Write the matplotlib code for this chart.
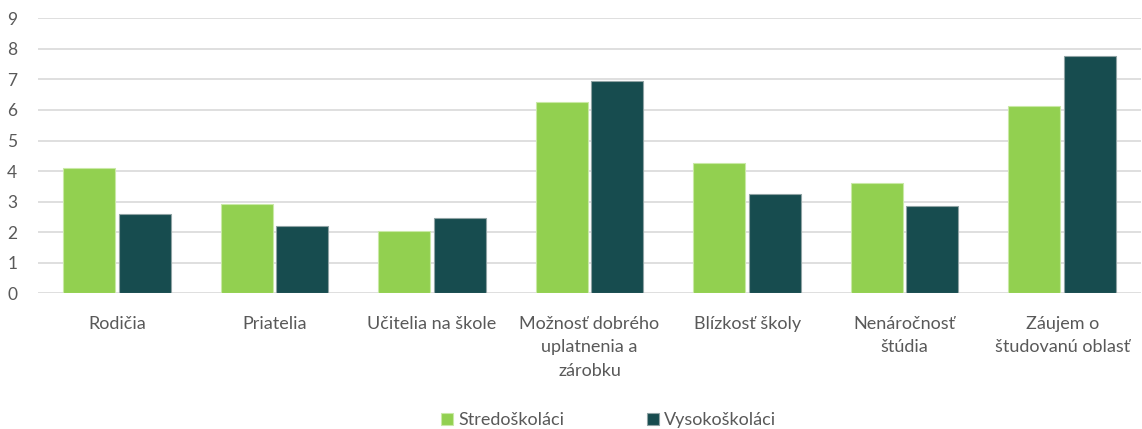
import matplotlib
matplotlib.use("Agg")
import matplotlib.pyplot as plt
import numpy as np

categories = ["Rodičia", "Priatelia", "Učitelia na škole",
              "Možnosť dobrého\nuplatnenia a\nzárobku", "Blízkosť školy",
              "Nenáročnosť\nštúdia", "Záujem o\nštudovanú oblasť"]
series_names = ["Stredoškoláci", "Vysokoškoláci"]
stredoskolaci = [4.11, 2.92, 2.05, 6.27, 4.25, 3.60, 6.13]
vysokoskolaci = [2.60, 2.21, 2.47, 6.95, 3.24, 2.86, 7.77]
yticks = list(range(0, 10))

plt.rcParams['font.family'] = ['Lato', 'DejaVu Sans']
text_color = "#595959"

fig = plt.figure(figsize=(11.42, 4.29), dpi=100)
ax = fig.add_axes([38/1142, 135.7/429, (1141-38)/1142, (293.3-18.3)/429])

x = np.arange(len(categories))
w = 0.33
off = 0.176
ax.bar(x - off, stredoskolaci, w, color="#92D050", edgecolor="#c9e9a6", linewidth=0.8,
       label=series_names[0], zorder=3)
ax.bar(x + off, vysokoskolaci, w, color="#174C4F", edgecolor="#8fa3a4", linewidth=0.8,
       label=series_names[1], zorder=3)

ax.set_xlim(-0.5, len(categories) - 0.5)
ax.set_ylim(0, 9)
ax.set_yticks(yticks)
ax.set_yticklabels([str(t) for t in yticks], fontsize=12.5, color=text_color)
ax.set_xticks(x)
ax.set_xticklabels(categories, fontsize=13, color=text_color, linespacing=1.6, va="top")
ax.tick_params(axis="both", length=0)
ax.tick_params(axis="x", pad=16)
ax.tick_params(axis="y", pad=15)
ax.yaxis.grid(True, color="#d9d9d9", linewidth=1.2, zorder=0)
ax.set_axisbelow(True)
for s in ax.spines.values():
    s.set_visible(False)

leg = fig.legend(loc="lower center", bbox_to_anchor=(0.533, -0.036), ncol=2, frameon=False,
                 fontsize=13, handlelength=0.65, handleheight=0.65, handletextpad=0.3,
                 columnspacing=4.6)
for t in leg.get_texts():
    t.set_color(text_color)

fig.savefig("out.png", dpi=100)
